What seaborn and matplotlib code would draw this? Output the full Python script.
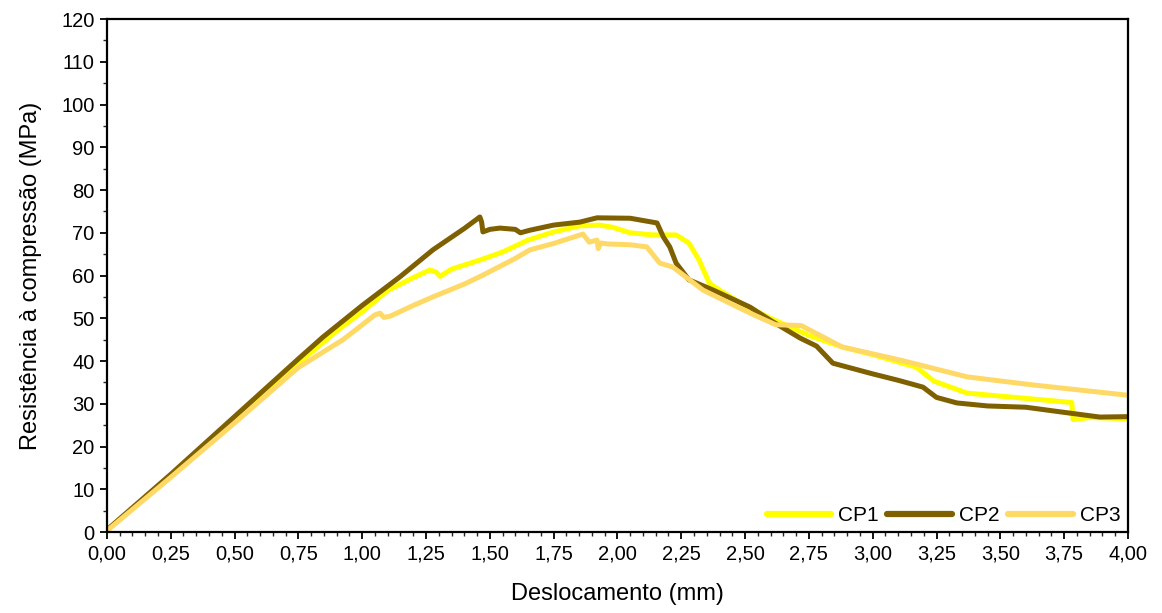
import matplotlib
matplotlib.use("Agg")
import matplotlib.pyplot as plt
import seaborn as sns
import pandas as pd
import numpy as np
from matplotlib.ticker import MultipleLocator, FixedLocator

# ---- data ----
cp1_x = [0, 0.1, 0.25, 0.5, 0.75, 0.91, 1.0, 1.1, 1.2, 1.265, 1.29, 1.305, 1.35, 1.47, 1.55,
         1.65, 1.75, 1.85, 1.93, 1.98, 2.05, 2.14, 2.23, 2.28, 2.32, 2.36, 2.41, 2.5, 2.6,
         2.75, 2.88, 3.0, 3.17, 3.24, 3.37, 3.5, 3.65, 3.78, 3.785, 3.85, 4.0]
cp1_y = [0.5, 5.5, 13.3, 26.5, 39.5, 47.5, 51.5, 56.5, 59.5, 61.3, 60.8, 59.8, 61.5, 63.8, 65.5,
         68.3, 70.2, 71.6, 71.8, 71.3, 70.0, 69.5, 69.5, 67.6, 63.6, 58.2, 56.2, 53.0, 50.0,
         46.0, 43.3, 41.5, 38.6, 35.3, 32.5, 31.8, 31.0, 30.3, 26.3, 26.8, 26.5]

cp2_x = [0, 0.25, 0.5, 0.75, 0.846, 1.0, 1.148, 1.277, 1.4, 1.461, 1.468, 1.473, 1.5, 1.54,
         1.6, 1.62, 1.657, 1.75, 1.853, 1.92, 2.05, 2.155, 2.18, 2.205, 2.23, 2.28, 2.375,
         2.52, 2.6, 2.715, 2.78, 2.844, 3.0, 3.1, 3.197, 3.25, 3.33, 3.45, 3.6, 3.75, 3.89, 4.0]
cp2_y = [0.5, 13.5, 27.0, 40.5, 45.6, 53.0, 59.7, 66.0, 71.0, 73.7, 72.5, 70.2, 70.8, 71.1,
         70.8, 70.0, 70.6, 71.8, 72.5, 73.5, 73.4, 72.3, 69.0, 66.7, 62.9, 59.0, 56.6,
         52.6, 49.5, 45.4, 43.5, 39.5, 37.0, 35.5, 33.9, 31.5, 30.2, 29.5, 29.2, 28.0, 26.9, 27.0]

cp3_x = [0, 0.25, 0.5, 0.75, 0.925, 0.99, 1.05, 1.07, 1.085, 1.11, 1.2, 1.277, 1.4, 1.473,
         1.6, 1.657, 1.75, 1.865, 1.89, 1.92, 1.925, 1.935, 1.96, 2.05, 2.115, 2.166, 2.217,
         2.335, 2.52, 2.62, 2.72, 2.88, 3.11, 3.37, 3.63, 3.8, 4.0]
cp3_y = [0.3, 12.8, 25.5, 38.5, 45.0, 48.0, 50.8, 51.2, 50.2, 50.5, 53.0, 55.0, 58.0, 60.1,
         64.0, 66.0, 67.5, 69.7, 67.8, 68.3, 66.3, 67.6, 67.4, 67.2, 66.7, 62.9, 62.0,
         56.6, 51.2, 48.5, 48.3, 43.3, 40.2, 36.3, 34.4, 33.3, 32.0]

series_names = ["CP1", "CP2", "CP3"]
series_colors = ["#FFFF00", "#7F6000", "#FFD966"]
x_ticks = [0.00, 0.25, 0.50, 0.75, 1.00, 1.25, 1.50, 1.75, 2.00, 2.25, 2.50, 2.75, 3.00,
           3.25, 3.50, 3.75, 4.00]
x_tick_labels = ["0,00", "0,25", "0,50", "0,75", "1,00", "1,25", "1,50", "1,75", "2,00",
                 "2,25", "2,50", "2,75", "3,00", "3,25", "3,50", "3,75", "4,00"]
y_ticks = [0, 10, 20, 30, 40, 50, 60, 70, 80, 90, 100, 110, 120]
x_label = "Deslocamento (mm)"
y_label = "Resistência à compressão (MPa)"

frames = []
for name, xs, ys in zip(series_names, [cp1_x, cp2_x, cp3_x], [cp1_y, cp2_y, cp3_y]):
    frames.append(pd.DataFrame({"x": xs, "y": ys, "serie": name}))
df = pd.concat(frames, ignore_index=True)

sns.set_style("ticks")
plt.rcParams["font.family"] = ["Liberation Sans", "DejaVu Sans"]
plt.rcParams["text.color"] = "black"
plt.rcParams["axes.labelcolor"] = "black"

fig = plt.figure(figsize=(11.62, 6.13), dpi=100)
ax = fig.add_axes([0.092, 0.132, 0.8787, 0.837])

sns.lineplot(data=df, x="x", y="y", hue="serie", hue_order=series_names,
             palette=dict(zip(series_names, series_colors)), sort=False,
             estimator=None, units="serie", linewidth=3.6, ax=ax, legend=True)

ax.set_xlim(0, 4.0)
ax.set_ylim(0, 120)
ax.xaxis.set_major_locator(FixedLocator(x_ticks))
ax.set_xticklabels(x_tick_labels)
ax.xaxis.set_minor_locator(MultipleLocator(0.05))
ax.yaxis.set_major_locator(FixedLocator(y_ticks))
ax.yaxis.set_minor_locator(MultipleLocator(5))
ax.tick_params(axis="both", which="major", direction="out", length=5, width=1.3,
               labelsize=14.5, colors="black", pad=4)
ax.tick_params(axis="both", which="minor", direction="out", length=3, width=1.0)
for s in ax.spines.values():
    s.set_visible(True)
    s.set_color("black")
    s.set_linewidth(1.6)

ax.set_xlabel(x_label, fontsize=17, labelpad=14, color="black")
ax.set_ylabel(y_label, fontsize=17, labelpad=14, color="black")

leg = ax.legend(loc="lower right", ncol=3, frameon=False, fontsize=15,
                handlelength=3.1, handletextpad=0.35, columnspacing=0.4,
                borderaxespad=0.15, borderpad=0.2)
for line in leg.get_lines():
    line.set_linewidth(4.5)
for t in leg.get_texts():
    t.set_color("black")

fig.savefig("out.png", dpi=100)
